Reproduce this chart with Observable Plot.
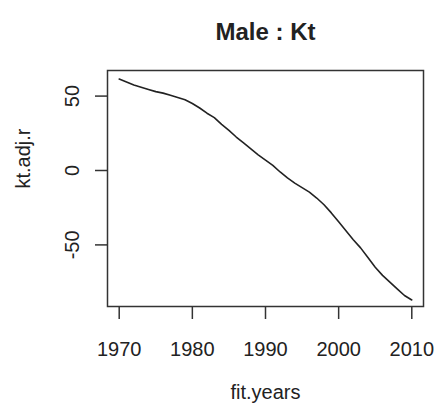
<!DOCTYPE html>
<html>
<head>
<meta charset="utf-8">
<script src="https://cdn.jsdelivr.net/npm/d3@7"></script>
<script src="https://cdn.jsdelivr.net/npm/@observablehq/plot@0.6"></script>
<style>
  html, body { margin: 0; padding: 0; background: #fff; }
  #chart svg { display: block; }
</style>
</head>
<body>
<div id="chart"></div>
<script>
const years = d3.range(1970, 2011);
const ktAdjR = [
  61.5, 59.5, 57.5, 56.0, 54.5, 53.0, 52.0, 50.5, 49.0, 47.5,
  45.0, 42.0, 38.5, 35.5, 31.0, 27.0, 22.5, 18.5, 14.5, 10.5,
  7.0, 3.5, -1.0, -5.0, -8.5, -11.5, -14.5, -18.5, -23.0, -28.5,
  -34.5, -40.5, -46.5, -52.0, -58.5, -65.0, -70.5, -75.0, -79.5, -84.0,
  -87.0
];
const xTicks = [1970, 1980, 1990, 2000, 2010];
const yTicks = [-50, 0, 50];
const titleText = "Male : Kt";
const xLabel = "fit.years";
const yLabel = "kt.adj.r";

const data = years.map((y, i) => ({year: y, value: ktAdjR[i]}));

const font = "Liberation Sans, Arial, sans-serif";
const ink = "#222";

const plot = Plot.plot({
  width: 434,
  height: 413,
  marginLeft: 107,
  marginRight: 11,
  marginTop: 70,
  marginBottom: 107,
  style: {fontFamily: font, color: ink, background: "#fff"},
  x: {domain: [1968.4, 2011.6]},
  y: {domain: [-91.4, 67.2]},
  marks: [
    Plot.axisX({ticks: xTicks, tickFormat: d => String(d), tickSize: 13, tickPadding: 22, fontSize: 20, label: null, stroke: "#333", strokeWidth: 1.5}),
    Plot.axisY({ticks: yTicks, tickFormat: d => String(d), tickSize: 12, tickPadding: 17, tickRotate: -90, fontSize: 20, label: null, stroke: "#333", strokeWidth: 1.5}),
    Plot.frame({stroke: "#333", strokeWidth: 1.5}),
    Plot.lineY(data, {x: "year", y: "value", stroke: ink, strokeWidth: 1.6}),
    Plot.text([titleText], {text: d => d, frameAnchor: "top", dy: -48, fontSize: 24, fontWeight: "bold", fill: ink}),
    Plot.text([xLabel], {text: d => d, frameAnchor: "bottom", dy: 92, fontSize: 20, fill: ink}),
    Plot.text([yLabel], {text: d => d, frameAnchor: "left", dx: -84, rotate: -90, fontSize: 20, fill: ink})
  ]
});
document.getElementById("chart").appendChild(plot);
</script>
</body>
</html>
